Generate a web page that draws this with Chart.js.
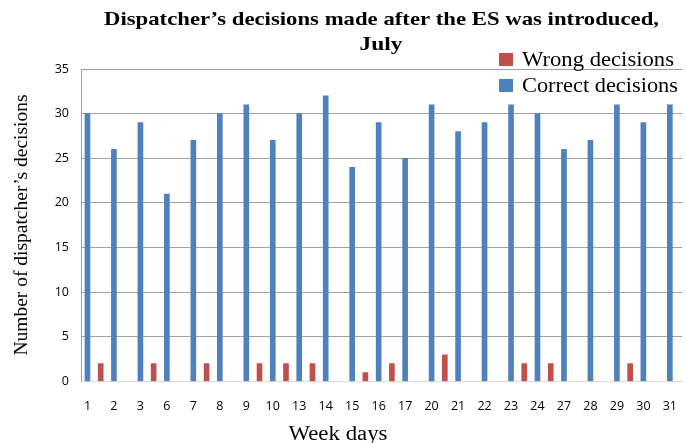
<!DOCTYPE html>
<html>
<head>
<meta charset="utf-8">
<script src="https://cdn.jsdelivr.net/npm/chart.js@4/dist/chart.umd.min.js"></script>
<style>
  html, body { margin: 0; padding: 0; background: #fff; }
  #wrap { width: 686px; height: 443px; }
</style>
</head>
<body>
<div id="wrap"><canvas id="c"></canvas></div>
<script>
var days = ['1', '2', '3', '6', '7', '8', '9', '10', '13', '14', '15', '16', '17', '20', '21', '22', '23', '24', '27', '28', '29', '30', '31'];
var wrongDecisions = [2, 0, 2, 0, 2, 0, 2, 2, 2, 0, 1, 2, 0, 3, 0, 0, 2, 2, 0, 0, 2, 0, 0];
var correctDecisions = [30, 26, 29, 21, 27, 30, 31, 27, 30, 32, 24, 29, 25, 31, 28, 29, 31, 30, 26, 27, 31, 29, 31];
var yTicks = [0, 5, 10, 15, 20, 25, 30, 35];

var blue = '#4f81bd';
var red = '#c0504d';
var serif = '"Liberation Serif", "Times New Roman", serif';

// blue bar sits on the day label, red bar half a step to the right
var correctPts = correctDecisions.map(function(v, i) { return { x: i, y: v }; });
var wrongPts = wrongDecisions.map(function(v, i) { return { x: i + 0.5, y: v || null }; });

// the source picture is a little wider than tall, so text is stretched to its width
function wideText(ctx, text, x, y, width, align) {
  var sx = width / ctx.measureText(text).width;
  ctx.save();
  ctx.translate(x, y);
  ctx.scale(sx, 1);
  ctx.textAlign = align;
  ctx.fillText(text, 0, 0);
  ctx.restore();
}

var overlay = {
  id: 'overlay',
  afterDraw: function(chart) {
    var ctx = chart.ctx;
    ctx.save();
    ctx.fillStyle = '#000';
    ctx.textBaseline = 'alphabetic';
    ctx.font = 'bold 19.5px ' + serif;
    wideText(ctx, 'Dispatcher\u2019s decisions made after the ES was introduced,', 381.5, 25, 555, 'center');
    wideText(ctx, 'July', 381, 50, 43, 'center');

    ctx.font = '20px ' + serif;
    wideText(ctx, 'Week days', 338, 440, 99, 'center');

    ctx.save();
    ctx.translate(26.5, 225);
    ctx.rotate(-Math.PI / 2);
    ctx.font = '19.5px ' + serif;
    ctx.textAlign = 'center';
    ctx.fillText('Number of dispatcher\u2019s decisions', 0, 0);
    ctx.restore();

    var items = chart.data.datasets;
    var widths = [152, 156];
    for (var i = 0; i < items.length; i++) {
      var y = 59.5 + i * 26;
      ctx.fillStyle = items[i].backgroundColor;
      ctx.fillRect(499, y - 6.5, 14, 13);
      ctx.fillStyle = '#000';
      wideText(ctx, items[i].label, 522, y + 6.2, widths[i], 'left');
    }
    ctx.restore();
  }
};

new Chart(document.getElementById('c').getContext('2d'), {
  type: 'bar',
  data: {
    datasets: [
      { label: 'Wrong decisions', data: wrongPts, backgroundColor: red, barThickness: 5, grouped: false },
      { label: 'Correct decisions', data: correctPts, backgroundColor: blue, barThickness: 5, grouped: false }
    ]
  },
  options: {
    responsive: true, maintainAspectRatio: false, animation: false,
    layout: { padding: { top: 69, right: 0, left: 0, bottom: 0 } },
    plugins: { legend: { display: false }, tooltip: { enabled: false }, title: { display: false } },
    scales: {
      x: {
        type: 'linear',
        offset: false,
        min: -0.244, max: 22.47,
        afterBuildTicks: function(s) { s.ticks = days.map(function(d, i) { return { value: i }; }); },
        afterFit: function(s) { s.height = 61.5; },
        ticks: {
          autoSkip: false, maxRotation: 0, padding: 9, color: '#000',
          font: { family: '"Open Sans"', size: 12.5 },
          callback: function(v) { return days[v]; }
        },
        grid: { display: false },
        border: { display: true, color: '#d9d9d9' }
      },
      y: {
        min: 0, max: 35,
        afterBuildTicks: function(s) { s.ticks = yTicks.map(function(v) { return { value: v }; }); },
        afterFit: function(s) { s.width = 81; },
        ticks: { padding: 12, color: '#000', font: { family: '"Open Sans"', size: 12.5 } },
        grid: {
          drawTicks: false,
          color: function(c) { return c.tick && c.tick.value === 0 ? '#d9d9d9' : '#a0a0a0'; }
        },
        border: { display: true, color: '#a0a0a0' }
      }
    }
  },
  plugins: [overlay]
});
</script>
</body>
</html>
